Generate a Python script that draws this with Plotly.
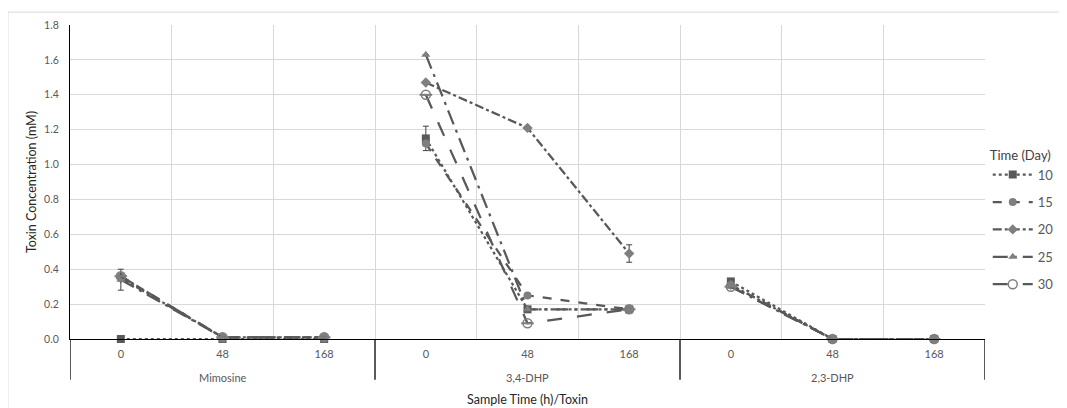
import plotly.graph_objects as go

groups = ["Mimosine", "3,4-DHP", "2,3-DHP"]
times = ["0", "48", "168"]
series_names = ["10", "15", "20", "25", "30"]

d10 = [0.00, 0.00, 0.00, 1.15, 0.17, 0.17, 0.33, 0.00, 0.00]
d15 = [0.36, 0.01, 0.01, 1.12, 0.25, 0.17, 0.31, 0.00, 0.00]
d20 = [0.35, 0.01, 0.01, 1.47, 1.21, 0.49, 0.31, 0.00, 0.00]
d25 = [0.34, 0.01, 0.01, 1.63, 0.17, 0.17, 0.30, 0.00, 0.00]
d30 = [0.36, 0.01, 0.01, 1.40, 0.09, 0.17, 0.30, 0.00, 0.00]

e10 = [0.00, 0.00, 0.00, 0.07, 0.00, 0.00, 0.00, 0.00, 0.00]
e15 = [0.00, 0.00, 0.00, 0.00, 0.00, 0.00, 0.00, 0.00, 0.00]
e20 = [0.00, 0.00, 0.00, 0.00, 0.00, 0.05, 0.00, 0.00, 0.00]
e25 = [0.06, 0.00, 0.00, 0.00, 0.00, 0.00, 0.00, 0.00, 0.00]
e30 = [0.00, 0.00, 0.00, 0.00, 0.00, 0.00, 0.00, 0.00, 0.00]

data = [d10, d15, d20, d25, d30]
errs = [e10, e15, e20, e25, e30]
dashes = ["dot", "dash", "dashdot", "longdashdot", "longdash"]
symbols = ["square", "circle", "diamond", "triangle-up", "circle-open"]
mcolors = ["#595959", "#7f7f7f", "#7f7f7f", "#7f7f7f", "#7f7f7f"]
line_color = "#595959"

n_sub = len(times)
cats = [(g, t) for g in groups for t in times]
xpos = list(range(len(cats)))


def with_gaps(vals, fill=None):
    out = []
    for gi in range(len(groups)):
        if gi > 0:
            out.append(fill)
        out.extend(vals[gi * n_sub:(gi + 1) * n_sub])
    return out


FONT = "Lato, Open Sans, sans-serif"
fig = go.Figure()

for i, name in enumerate(series_names):
    x = with_gaps(xpos)
    y = with_gaps(data[i])
    e = with_gaps(errs[i], 0)
    fig.add_trace(go.Scatter(
        x=x, y=y, name=name, mode="lines+markers", connectgaps=False,
        legendgroup=name,
        line=dict(color=line_color, width=2.25, dash=dashes[i]),
        marker=dict(symbol=symbols[i], size=8 if i != 4 else 9,
                    color=mcolors[i],
                    line=dict(color=mcolors[i], width=1.5 if i == 4 else 0)),
        error_y=dict(type="data", array=e, visible=True, color="#404040",
                     thickness=1, width=3),
        cliponaxis=False,
    ))
    if i == 4:
        fig.add_trace(go.Scatter(
            x=x, y=y, mode="markers", showlegend=False, legendgroup=name,
            marker=dict(symbol="line-ew", size=9,
                        line=dict(color=mcolors[i], width=2)),
            cliponaxis=False, hoverinfo="skip",
        ))

# group dividers below axis
for b in [-0.5, 2.5, 5.5, 8.5]:
    fig.add_shape(type="line", xref="x", yref="paper", x0=b, x1=b,
                  y0=0, y1=-0.13, line=dict(color="black", width=1.3))

for gi, g in enumerate(groups):
    fig.add_annotation(x=gi * n_sub + 1, y=-0.122, xref="x", yref="paper",
                       text=g, showarrow=False, yanchor="middle",
                       font=dict(family=FONT, size=11, color="#595959"))

fig.add_annotation(x=0.5, y=-0.194, xref="paper", yref="paper",
                   text="Sample Time (h)/Toxin", showarrow=False,
                   yanchor="middle",
                   font=dict(family=FONT, size=12.5, color="#262626"))

# outer chart border
fig.add_shape(type="rect", xref="paper", yref="paper",
              x0=-0.0678, x1=1.2, y0=-0.4, y1=1.041,
              line=dict(color="#d9d9d9", width=1))

fig.update_layout(
    width=1059, height=400,
    margin=dict(l=62, r=82, t=17, b=69, autoexpand=False),
    plot_bgcolor="white", paper_bgcolor="white",
    font=dict(family=FONT, size=11, color="#595959"),
    showlegend=True,
    legend=dict(
        title=dict(text="Time (Day)", font=dict(family=FONT, size=13, color="#404040")),
        x=1.003, xanchor="left", y=0.625, yanchor="top",
        font=dict(family=FONT, size=13, color="#595959"),
        tracegroupgap=7.5, itemwidth=40, bgcolor="rgba(0,0,0,0)",
    ),
    xaxis=dict(
        range=[-0.5, 8.5], tickmode="array", tickvals=xpos,
        ticktext=[t for _, t in cats], showgrid=False, zeroline=False,
        ticks="", tickfont=dict(family=FONT, size=11, color="#595959"),
        ticklabelstandoff=5,
        showline=True, linecolor="black", linewidth=1.3,
        minor=dict(tick0=-0.5, dtick=1, showgrid=True, gridcolor="#d9d9d9",
                   gridwidth=1, ticks=""),
    ),
    yaxis=dict(
        range=[0, 1.8], dtick=0.2, tickformat=".1f", showgrid=True,
        gridcolor="#d9d9d9", gridwidth=1, zeroline=False,
        showline=True, linecolor="black", linewidth=1.3, ticks="",
        tickfont=dict(family=FONT, size=10.5, color="#595959"),
        ticklabelstandoff=8,
        title=dict(text="Toxin Concentration (mM)", standoff=4,
                   font=dict(family=FONT, size=12.5, color="#262626")),
    ),
)

fig.write_html("out.html")
